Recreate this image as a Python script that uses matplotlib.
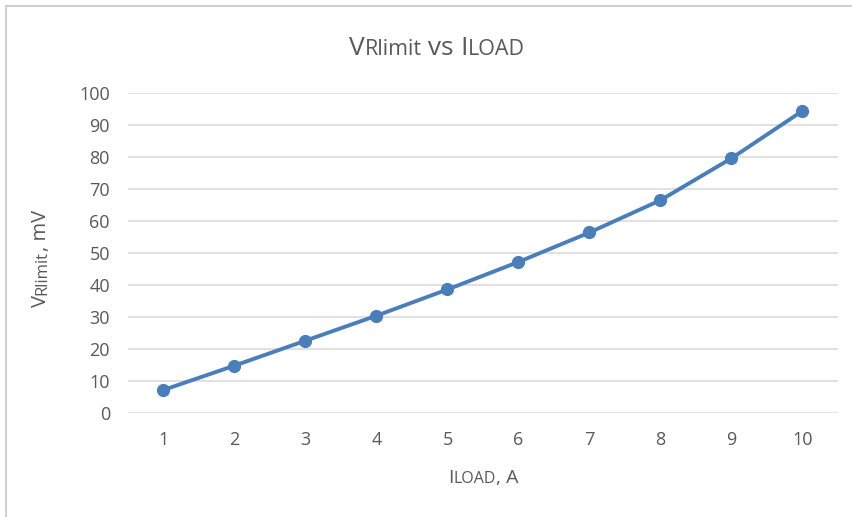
# VRlimit vs ILOAD line chart, Excel look

import matplotlib
matplotlib.use('Agg')
import matplotlib.pyplot as plt

i_load = [1, 2, 3, 4, 5, 6, 7, 8, 9, 10]
v_rlimit = [7.3, 14.9, 22.7, 30.5, 38.7, 47.3, 56.5, 66.6, 79.7, 94.5]
y_ticks = [0, 10, 20, 30, 40, 50, 60, 70, 80, 90, 100]

TEXT_COLOR = '#595959'
LINE_COLOR = '#4A7EBB'
GRID_COLOR = '#D9D9D9'
FONT = 'Open Sans'


def text_width(fig, renderer, s, size):
    # measure with sentinels so leading/trailing spaces are counted
    t1 = fig.text(0, 0, '|' + s + '|', fontsize=size, family=FONT)
    t2 = fig.text(0, 0, '||', fontsize=size, family=FONT)
    w = t1.get_window_extent(renderer).width - t2.get_window_extent(renderer).width
    t1.remove()
    t2.remove()
    return w


def mixed_text(fig, cx, cy, parts, vertical=False):
    # parts: list of (string, fontsize); cx, cy = baseline centre in pixels
    renderer = fig.canvas.get_renderer()
    widths = [text_width(fig, renderer, s, fs) for s, fs in parts]
    total = sum(widths)
    W, H = fig.bbox.width, fig.bbox.height
    pos = -total / 2
    for (s, fs), w in zip(parts, widths):
        if vertical:
            fig.text(cx / W, 1 - (cy - pos) / H, s, fontsize=fs, family=FONT,
                     color=TEXT_COLOR, rotation=90, ha='left', va='baseline',
                     rotation_mode='anchor')
        else:
            fig.text((cx + pos) / W, 1 - cy / H, s, fontsize=fs, family=FONT,
                     color=TEXT_COLOR, ha='left', va='baseline')
        pos += w


def main():
    fig = plt.figure(figsize=(8.53, 5.17), dpi=100)
    W, H = 853, 517
    ax = fig.add_axes([128 / W, 1 - 413.3 / H, 710 / W, 320 / H])

    ax.plot(i_load, v_rlimit, color=LINE_COLOR, linewidth=2.8, marker='o',
            markersize=8.5, solid_capstyle='round', zorder=3)

    ax.set_xlim(0.5, 10.5)
    ax.set_ylim(0, 100)
    ax.set_xticks(i_load)
    ax.set_yticks(y_ticks)
    ax.grid(axis='y', color=GRID_COLOR, linewidth=1.1)
    ax.set_axisbelow(True)
    for sp in ax.spines.values():
        sp.set_visible(False)
    ax.tick_params(length=0, labelsize=13, labelcolor=TEXT_COLOR)
    ax.tick_params(axis='y', pad=13)
    ax.tick_params(axis='x', pad=13)
    for lab in ax.get_xticklabels() + ax.get_yticklabels():
        lab.set_family(FONT)

    # chart border (only top and left edges visible in the crop)
    fig.add_artist(plt.Line2D([6.5 / W, 1], [1 - 5.5 / H, 1 - 5.5 / H],
                              transform=fig.transFigure, color='#D0D0D0', linewidth=1.5))
    fig.add_artist(plt.Line2D([6.5 / W, 6.5 / W], [0, 1 - 5.5 / H],
                              transform=fig.transFigure, color='#D0D0D0', linewidth=1.5))

    mixed_text(fig, 437, 55, [('V', 19), ('Rlimit', 15.5), (' vs ', 19), ('I', 19), ('LOAD', 15.5)])
    mixed_text(fig, 483, 483, [('I', 14), ('LOAD', 11.5), (', A', 14)])
    mixed_text(fig, 46, 258, [('V', 14.5), ('Rlimit', 12), (', mV', 14.5)], vertical=True)

    fig.savefig('out.png', dpi=100)


if __name__ == '__main__':
    main()
